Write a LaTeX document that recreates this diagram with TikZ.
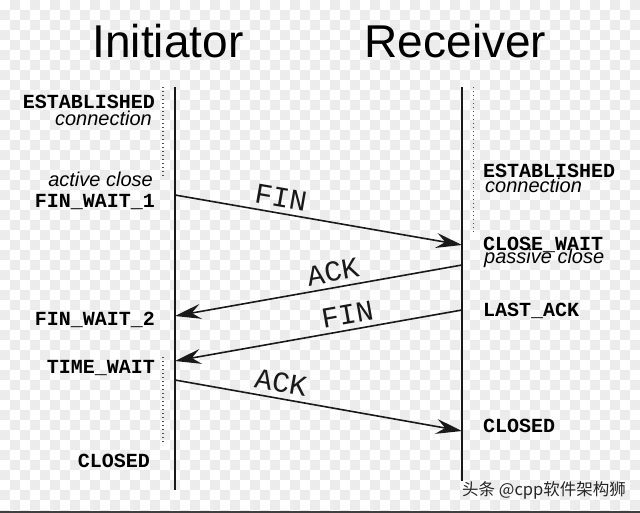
\documentclass[tikz,border=0pt]{standalone}
\usepackage{fontspec}
\setmainfont{Liberation Sans}
\newfontfamily\monof{Liberation Mono}
\newfontfamily\cjkf{Noto Sans CJK SC}
\usetikzlibrary{arrows.meta}
\definecolor{checkgray}{HTML}{ECECEC}
\tikzset{
  lifeline/.style={line width=2pt, black!90},
  dotline/.style={line width=1.6pt, black!70, dash pattern=on 1.4pt off 2.6pt},
  msg/.style={line width=1.6pt, black!90, -{Stealth[length=26pt,width=15pt,inset=9pt]}},
  lbl/.style={sloped, above, inner sep=5pt, font=\monof\fontsize{29}{32}\selectfont},
  title/.style={anchor=base, font=\fontsize{46}{50}\selectfont},
  stl/.style={anchor=base east, inner sep=0pt, font=\monof\bfseries\fontsize{20}{24}\selectfont},
  str/.style={anchor=base west, inner sep=0pt, font=\monof\bfseries\fontsize{20}{24}\selectfont},
  itl/.style={anchor=base east, inner sep=0pt, font=\itshape\fontsize{20}{24}\selectfont},
  itr/.style={anchor=base west, inner sep=0pt, font=\itshape\fontsize{20}{24}\selectfont},
}
\begin{document}
\begin{tikzpicture}[x=1pt,y=-1pt]
\useasboundingbox (0,0) rectangle (640,513);
\fill[white] (0,0) rectangle (640,513);
\foreach \i in {0,...,63}{
  \pgfmathtruncatemacro\st{mod(\i+1,2)}
  \pgfmathtruncatemacro\stt{\st+2}
  \foreach \j in {\st,\stt,...,51}{
    \fill[checkgray] (\i*10,\j*10) rectangle ++(10,10);
  }
}
\draw[line width=2pt, black!75] (0,512) -- (640,512);

% titles
\node[title] (tinit) at (168,58) {Initiator};
\node[title] (trecv) at (455.5,58) {Receiver};

% lifelines
\coordinate (itop) at (175,87);
\coordinate (ibot) at (175,490);
\coordinate (rtop) at (462,87);
\coordinate (rbot) at (462,481);
\draw[lifeline] (itop) -- (ibot);
\draw[lifeline] (rtop) -- (rbot);

% dotted lines
\coordinate (d1a) at (163,87);  \coordinate (d1b) at (163,177);
\coordinate (d2a) at (473.5,87);  \coordinate (d2b) at (473.5,233);
\coordinate (d3a) at (163,357); \coordinate (d3b) at (163,445);
\draw[dotline] (d1a) -- (d1b);
\draw[dotline] (d2a) -- (d2b);
\draw[dotline] (d3a) -- (d3b);

% messages
\coordinate (i1) at (175,195);
\coordinate (r1) at (462,245);
\coordinate (r2) at (462,265);
\coordinate (i2) at (175,316);
\coordinate (r3) at (462,310);
\coordinate (i3) at (175,361);
\coordinate (i4) at (175,380);
\coordinate (r4) at (462,431);
\draw[msg] (i1) -- node[lbl, pos=.36] (lfin1) {FIN} (r1);
\draw[msg] (r2) -- node[lbl, pos=.44] (lack1) {ACK} (i2);
\draw[msg] (r3) -- node[lbl, pos=.39] (lfin2) {FIN} (i3);
\draw[msg] (i4) -- node[lbl, pos=.36] (lack2) {ACK} (r4);

% left states
\node[stl] (lest) at (155,109) {ESTABLISHED};
\node[itl] (lcon) at (152,126) {connection};
\node[itl] (lact) at (153,187) {active close};
\node[stl] (lfw1) at (155,208) {FIN\_WAIT\_1};
\node[stl] (lfw2) at (155,325) {FIN\_WAIT\_2};
\node[stl] (ltw) at (155,373) {TIME\_WAIT};
\node[stl] (lcl) at (150,467) {CLOSED};

% right states
\node[str] (rest) at (483,178) {ESTABLISHED};
\node[itr] (rcon) at (485,193) {connection};
\node[str] (rcw) at (483,251) {CLOSE\_WAIT};
\node[itr] (rpas) at (484,263) {passive close};
\node[str] (rla) at (483,316) {LAST\_ACK};
\node[str] (rcl) at (483,432) {CLOSED};

% watermark
\node[anchor=base west, inner sep=0pt, text=black!85, font=\cjkf\fontsize{16.5}{18}\selectfont] (wm) at (462,495) {头条 @cpp软件架构狮};
\end{tikzpicture}
\end{document}
